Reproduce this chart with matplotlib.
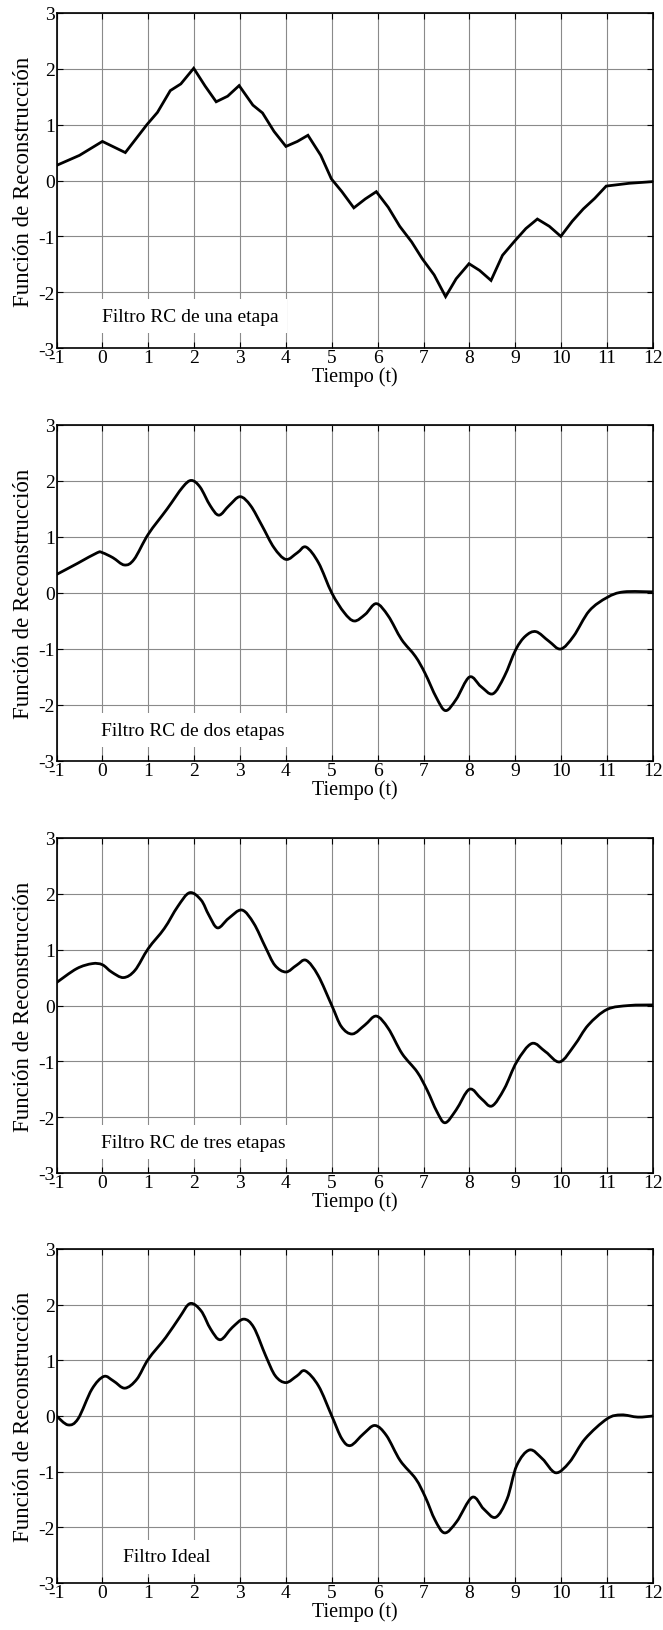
#!/usr/bin/env python3
"""
Reconstruction of a sampled signal: RC filters (1, 2, 3 stages) vs ideal filter.
Output: out.png (663x1631px)
"""

import matplotlib
matplotlib.use("Agg")
import matplotlib.pyplot as plt
import matplotlib.patches as mpatches
from matplotlib.path import Path

# ─── DATA ────────────────────────────────────────────────────────────────────

t_una = [-1, -0.5, 0.0, 0.5, 0.97, 1.2, 1.48, 1.71, 1.99, 2.24, 2.48, 2.73, 2.98,
         3.28, 3.49, 3.74, 4.0, 4.25, 4.48, 4.76, 4.99, 5.22, 5.48, 5.73, 5.97,
         6.23, 6.48, 6.74, 6.97, 7.23, 7.48, 7.71, 7.99, 8.22, 8.47, 8.72, 8.98,
         9.23, 9.48, 9.74, 9.99, 10.24, 10.48, 10.73, 10.98, 11.48, 12]
y_una = [0.27, 0.45, 0.70, 0.50, 1.0, 1.22, 1.61, 1.73, 2.01, 1.69, 1.41, 1.51, 1.70,
         1.35, 1.21, 0.88, 0.61, 0.70, 0.81, 0.45, 0.03, -0.20, -0.49, -0.33, -0.20,
         -0.48, -0.82, -1.10, -1.40, -1.69, -2.08, -1.76, -1.49, -1.61, -1.79, -1.34, -1.09,
         -0.86, -0.69, -0.82, -1.00, -0.73, -0.51, -0.32, -0.10, -0.05, -0.02]

t_dos = [-1, -0.54, -0.11, 0.0, 0.23, 0.48, 0.69, 1.0, 1.41, 1.75, 1.94, 2.13, 2.35,
         2.54, 2.76, 3.0, 3.23, 3.48, 3.74, 4.0, 4.25, 4.44, 4.71, 5.0, 5.27, 5.49,
         5.73, 5.97, 6.23, 6.52, 6.82, 7.03, 7.28, 7.48, 7.71, 8.0, 8.25, 8.51, 8.76,
         9.01, 9.22, 9.45, 9.73, 9.99, 10.27, 10.61, 11.0, 11.36, 12]
y_dos = [0.33, 0.53, 0.72, 0.72, 0.63, 0.50, 0.60, 1.05, 1.50, 1.89, 2.01, 1.89, 1.56,
         1.39, 1.56, 1.72, 1.56, 1.20, 0.81, 0.60, 0.72, 0.82, 0.54, 0.0, -0.35, -0.50,
         -0.38, -0.19, -0.41, -0.83, -1.13, -1.43, -1.87, -2.10, -1.90, -1.50, -1.67, -1.80, -1.49,
         -1.01, -0.77, -0.69, -0.86, -1.00, -0.77, -0.32, -0.08, 0.02, 0.02]

t_tres = [-1, -0.56, -0.22, 0.0, 0.2, 0.46, 0.71, 1.0, 1.35, 1.64, 1.9, 2.15, 2.32,
          2.51, 2.75, 3.04, 3.3, 3.55, 3.76, 4.0, 4.23, 4.44, 4.7, 5.0, 5.21, 5.45,
          5.72, 5.97, 6.23, 6.53, 6.86, 7.08, 7.29, 7.47, 7.71, 8.0, 8.26, 8.49, 8.76,
          9.03, 9.36, 9.66, 9.97, 10.29, 10.59, 11.0, 11.48, 12]
y_tres = [0.41, 0.66, 0.75, 0.73, 0.60, 0.50, 0.63, 1.02, 1.38, 1.77, 2.02, 1.89, 1.62,
          1.39, 1.56, 1.71, 1.47, 1.05, 0.72, 0.60, 0.72, 0.81, 0.54, 0.0, -0.38, -0.51,
          -0.35, -0.19, -0.41, -0.86, -1.19, -1.52, -1.90, -2.10, -1.87, -1.50, -1.67, -1.80, -1.49,
          -1.01, -0.68, -0.83, -1.01, -0.71, -0.35, -0.07, 0.0, 0.01]

t_ideal = [-1, -0.75, -0.53, -0.23, 0.03, 0.24, 0.49, 0.75, 1.0, 1.38, 1.68, 1.91, 2.15,
           2.36, 2.57, 2.83, 3.08, 3.3, 3.56, 3.77, 4.0, 4.24, 4.42, 4.71, 5.0, 5.22,
           5.41, 5.69, 5.94, 6.19, 6.49, 6.83, 7.04, 7.25, 7.46, 7.72, 8.06, 8.31, 8.57,
           8.82, 9.03, 9.31, 9.59, 9.88, 10.18, 10.52, 11.0, 11.31, 11.67, 12]
y_ideal = [0.0, -0.16, -0.05, 0.48, 0.71, 0.63, 0.50, 0.66, 1.02, 1.41, 1.77, 2.02, 1.89,
           1.56, 1.37, 1.59, 1.74, 1.59, 1.08, 0.72, 0.60, 0.72, 0.81, 0.54, 0.0, -0.41,
           -0.53, -0.32, -0.17, -0.35, -0.80, -1.13, -1.46, -1.87, -2.10, -1.90, -1.46, -1.67, -1.82,
           -1.49, -0.89, -0.61, -0.77, -1.02, -0.83, -0.41, -0.05, 0.02, -0.02, 0.0]

labels = ["Filtro RC de una etapa", "Filtro RC de dos etapas",
          "Filtro RC de tres etapas", "Filtro Ideal"]
label_pos = [(0.0, -2.43), (-0.02, -2.45), (-0.02, -2.45), (0.45, -2.53)]
smooth = [False, True, True, True]

x_ticks = list(range(-1, 13))
y_ticks = list(range(-3, 4))

# ─── STYLE ────────────────────────────────────────────────────────────────────

plt.rcParams["font.family"] = ["Liberation Serif", "DejaVu Serif"]
plt.rcParams["axes.unicode_minus"] = False
FS_TICK = 14
FS_XLAB = 14.5
FS_YLAB = 16.5
FS_NOTE = 14

# axes boxes in pixels: (top, bottom)
L, R = 56.5, 653
boxes = [(14, 349), (426, 762), (839, 1174), (1250, 1584)]
W, H = 663, 1631


def smooth_path(xs, ys):
    # Catmull-Rom through the read points, drawn as cubic Bezier segments
    pts = list(zip(xs, ys))
    verts = [pts[0]]
    codes = [Path.MOVETO]
    n = len(pts)
    for i in range(n - 1):
        p0 = pts[max(i - 1, 0)]
        p1 = pts[i]
        p2 = pts[i + 1]
        p3 = pts[min(i + 2, n - 1)]
        c1 = (p1[0] + (p2[0] - p0[0]) / 6, p1[1] + (p2[1] - p0[1]) / 6)
        c2 = (p2[0] - (p3[0] - p1[0]) / 6, p2[1] - (p3[1] - p1[1]) / 6)
        verts += [c1, c2, p2]
        codes += [Path.CURVE4] * 3
    return Path(verts, codes)


fig = plt.figure(figsize=(W / 100, H / 100), dpi=100)
fig.patch.set_facecolor("white")

series = [(t_una, y_una), (t_dos, y_dos), (t_tres, y_tres), (t_ideal, y_ideal)]

for (top, bot), (tt, yy), lab, (lx, ly), sm in zip(boxes, series, labels, label_pos, smooth):
    ax = fig.add_axes([L / W, 1 - bot / H, (R - L) / W, (bot - top) / H])
    if sm:
        ax.add_patch(mpatches.PathPatch(smooth_path(tt, yy), facecolor="none",
                                        edgecolor="black", lw=2.0, zorder=3,
                                        capstyle="round", joinstyle="round"))
    else:
        ax.plot(tt, yy, color="black", lw=2.0, zorder=3, solid_joinstyle="miter")
    ax.set_xlim(-1, 12)
    ax.set_ylim(-3, 3)
    ax.set_xticks(x_ticks)
    ax.set_yticks(y_ticks)
    ax.grid(True, color="#8a8a8a", lw=0.8)
    ax.set_axisbelow(True)
    ax.tick_params(direction="in", length=4, width=0.8, top=True, right=True,
                   labelsize=FS_TICK, pad=1)
    ax.tick_params(axis="y", pad=1)
    for sp in ax.spines.values():
        sp.set_linewidth(1.2)
    ax.set_xlabel("Tiempo (t)", fontsize=FS_XLAB, labelpad=0)
    ax.set_ylabel("Función de Reconstrucción", fontsize=FS_YLAB, labelpad=3)
    ax.text(lx, ly, lab, fontsize=FS_NOTE, ha="left", va="center", zorder=4,
            bbox=dict(facecolor="white", edgecolor="none", pad=6))

fig.savefig("out.png", dpi=100, facecolor="white")
